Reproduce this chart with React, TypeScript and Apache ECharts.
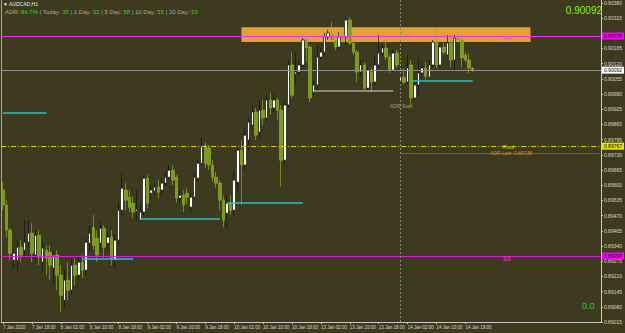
import React, { useEffect, useRef } from "react";
import * as echarts from "echarts";

// ---- data ----
const symbolTitle = "▼ AUDCAD,H1";
const adrStats: [string, string][] = [
  ["ADR", "84.7%"],
  ["Today", "35"],
  ["1 Day", "32"],
  ["5 Day", "58"],
  ["10 Day", "55"],
  ["20 Day", "53"],
];

const xTickLabels = [
  "7 Jan 2020", "7 Jan 18:00", "8 Jan 02:00", "8 Jan 10:00", "8 Jan 18:00",
  "9 Jan 02:00", "9 Jan 10:00", "9 Jan 18:00", "10 Jan 02:00", "10 Jan 10:00",
  "10 Jan 18:00", "13 Jan 02:00", "13 Jan 10:00", "13 Jan 18:00", "14 Jan 02:00",
  "14 Jan 10:00", "14 Jan 19:00",
];
const barsPerLabel = 8;
const totalSlots = 166;

const opens = [
  0.89579, 0.89515, 0.89408, 0.89279, 0.89279, 0.89335, 0.89322, 0.89356, 0.89395, 0.89301,
  0.89386, 0.89271, 0.89322, 0.89313, 0.89245, 0.89301, 0.89215, 0.89108, 0.89194, 0.89151,
  0.89258, 0.89215, 0.89271, 0.89236, 0.89352, 0.89420, 0.89373, 0.89352, 0.89416, 0.89352,
  0.89378, 0.89279, 0.89365, 0.89493, 0.89579, 0.89549, 0.89523, 0.89489, 0.89450, 0.89485,
  0.89630, 0.89566, 0.89575, 0.89592, 0.89579, 0.89609, 0.89634, 0.89664, 0.89634, 0.89545,
  0.89557, 0.89566, 0.89506, 0.89549, 0.89630, 0.89694, 0.89771, 0.89759, 0.89686, 0.89634,
  0.89609, 0.89536, 0.89480, 0.89523, 0.89493, 0.89613, 0.89750, 0.89686, 0.89793, 0.89857,
  0.89913, 0.89827, 0.89921, 0.89887, 0.89964, 0.89930, 0.89964, 0.89921, 0.89707, 0.89943,
  0.90114, 0.90075, 0.90084, 0.90114, 0.90221, 0.90191, 0.89998, 0.90028, 0.90148, 0.90169,
  0.90234, 0.90242, 0.90221, 0.90191, 0.90234, 0.90234, 0.90306, 0.90208, 0.90169, 0.90084,
  0.90114, 0.90015, 0.90084, 0.90041, 0.90114, 0.90165, 0.90187, 0.90148, 0.90092, 0.90165,
  0.90041, 0.90062, 0.90041, 0.90114, 0.89973, 0.90028, 0.90080, 0.90101, 0.90062, 0.90114,
  0.90212, 0.90114, 0.90191, 0.90157, 0.90208, 0.90135, 0.90229, 0.90221, 0.90157, 0.90135,
  0.90101,
];
const closes = [
  0.89515, 0.89408, 0.89309, 0.89309, 0.89335, 0.89301, 0.89356, 0.89395, 0.89309, 0.89386,
  0.89292, 0.89331, 0.89288, 0.89258, 0.89301, 0.89215, 0.89129, 0.89194, 0.89151, 0.89258,
  0.89215, 0.89271, 0.89236, 0.89356, 0.89395, 0.89343, 0.89301, 0.89416, 0.89335, 0.89378,
  0.89288, 0.89365, 0.89493, 0.89587, 0.89536, 0.89506, 0.89485, 0.89497, 0.89485, 0.89630,
  0.89523, 0.89579, 0.89592, 0.89570, 0.89609, 0.89634, 0.89664, 0.89622, 0.89545, 0.89557,
  0.89515, 0.89549, 0.89549, 0.89634, 0.89694, 0.89763, 0.89694, 0.89686, 0.89634, 0.89609,
  0.89536, 0.89450, 0.89523, 0.89493, 0.89622, 0.89750, 0.89686, 0.89814, 0.89870, 0.89913,
  0.89814, 0.89921, 0.89887, 0.89964, 0.89930, 0.89964, 0.89921, 0.89707, 0.89943, 0.90114,
  0.89985, 0.90084, 0.90114, 0.90221, 0.90187, 0.89973, 0.90028, 0.90148, 0.90169, 0.90234,
  0.90251, 0.90221, 0.90191, 0.90234, 0.90225, 0.90306, 0.90208, 0.90169, 0.90084, 0.90114,
  0.90015, 0.90092, 0.90041, 0.90114, 0.90165, 0.90187, 0.90148, 0.90092, 0.90165, 0.90114,
  0.90062, 0.90041, 0.90101, 0.89973, 0.90028, 0.90080, 0.90101, 0.90067, 0.90114, 0.90212,
  0.90114, 0.90191, 0.90169, 0.90208, 0.90135, 0.90229, 0.90221, 0.90144, 0.90135, 0.90101,
  0.90092,
];
const lows = [
  0.89493, 0.89378, 0.89279, 0.89245, 0.89236, 0.89271, 0.89288, 0.89331, 0.89271, 0.89271,
  0.89258, 0.89236, 0.89215, 0.89194, 0.89172, 0.89151, 0.89057, 0.89074, 0.89108, 0.89129,
  0.89172, 0.89194, 0.89202, 0.89215, 0.89322, 0.89322, 0.89271, 0.89322, 0.89288, 0.89322,
  0.89258, 0.89245, 0.89343, 0.89472, 0.89493, 0.89485, 0.89459, 0.89450, 0.89442, 0.89472,
  0.89502, 0.89536, 0.89557, 0.89545, 0.89553, 0.89596, 0.89622, 0.89600, 0.89527, 0.89523,
  0.89485, 0.89519, 0.89485, 0.89536, 0.89613, 0.89682, 0.89673, 0.89664, 0.89613, 0.89587,
  0.89493, 0.89420, 0.89416, 0.89472, 0.89472, 0.89579, 0.89515, 0.89664, 0.89750, 0.89836,
  0.89793, 0.89801, 0.89857, 0.89870, 0.89900, 0.89913, 0.89878, 0.89592, 0.89686, 0.89930,
  0.89973, 0.90028, 0.90071, 0.90105, 0.90127, 0.89955, 0.89985, 0.89998, 0.90135, 0.90157,
  0.90221, 0.90212, 0.90178, 0.90178, 0.90212, 0.90199, 0.90199, 0.90157, 0.90041, 0.90071,
  0.90007, 0.89998, 0.89998, 0.90028, 0.90105, 0.90152, 0.90135, 0.90080, 0.90084, 0.90101,
  0.90032, 0.90032, 0.90032, 0.89943, 0.89964, 0.89985, 0.90067, 0.90050, 0.90058, 0.90105,
  0.90101, 0.90105, 0.90157, 0.90148, 0.90105, 0.90084, 0.90212, 0.90105, 0.90127, 0.90080,
  0.90084,
];
const highs = [
  0.89613, 0.89536, 0.89416, 0.89331, 0.89365, 0.89365, 0.89450, 0.89450, 0.89438, 0.89408,
  0.89408, 0.89365, 0.89343, 0.89343, 0.89322, 0.89322, 0.89258, 0.89236, 0.89271, 0.89288,
  0.89288, 0.89301, 0.89301, 0.89373, 0.89429, 0.89472, 0.89408, 0.89442, 0.89429, 0.89399,
  0.89408, 0.89386, 0.89527, 0.89652, 0.89609, 0.89579, 0.89553, 0.89579, 0.89515, 0.89639,
  0.89643, 0.89600, 0.89609, 0.89622, 0.89630, 0.89656, 0.89686, 0.89686, 0.89643, 0.89579,
  0.89579, 0.89587, 0.89570, 0.89652, 0.89707, 0.89806, 0.89784, 0.89771, 0.89707, 0.89656,
  0.89622, 0.89557, 0.89557, 0.89557, 0.89664, 0.89771, 0.89793, 0.89844, 0.89887, 0.89943,
  0.89930, 0.89964, 0.89964, 0.89985, 0.89994, 0.89990, 0.89973, 0.89943, 0.89964, 0.90135,
  0.90169, 0.90165, 0.90135, 0.90229, 0.90229, 0.90199, 0.90050, 0.90199, 0.90187, 0.90251,
  0.90264, 0.90298, 0.90238, 0.90255, 0.90264, 0.90319, 0.90319, 0.90221, 0.90178, 0.90135,
  0.90127, 0.90101, 0.90101, 0.90157, 0.90242, 0.90199, 0.90221, 0.90157, 0.90178, 0.90178,
  0.90071, 0.90101, 0.90157, 0.90135, 0.90041, 0.90144, 0.90114, 0.90127, 0.90135, 0.90221,
  0.90272, 0.90199, 0.90208, 0.90242, 0.90229, 0.90242, 0.90251, 0.90234, 0.90169, 0.90165,
  0.90105,
];

const currentPrice = 0.90092;
const r3Level = 0.90238;
const pivotLevel = 0.89767;
const adrLowLevel = 0.89738;
const s3Level = 0.89297;
const adrStartIndex = 110;
const bandRange = { fromIndex: 66, toIndex: 146, top: 0.90276, bottom: 0.90212 };
// [fromIndex, toIndex, price]
const cyanSegments: [number, number, number][] = [
  [0, 12, 0.89908],
  [38, 60, 0.89455],
  [62, 83, 0.89527],
  [113, 130, 0.90045],
  [22, 36, 0.89284],
];
const graySegments: [number, number, number][] = [[86, 108, 0.90003]];

const yMin = 0.89015;
const yMax = 0.90392;
const yStep = 0.00065;

const FONT = '"Liberation Sans", Arial, sans-serif';

export default function App() {
  const ref = useRef<HTMLDivElement>(null);
  useEffect(() => {
    document.body.style.margin = "0";
    if (!ref.current) return;
    const chart = echarts.init(ref.current, undefined, { renderer: "svg" });

    const categories = Array.from({ length: totalSlots }, (_, i) =>
      i % barsPerLabel === 0 && i / barsPerLabel < xTickLabels.length
        ? xTickLabels[i / barsPerLabel]
        : "b" + i
    );
    const showTick = (idx: number) =>
      idx % barsPerLabel === 0 && idx / barsPerLabel < xTickLabels.length;
    const candles = opens.map((o, i) => [o, closes[i], lows[i], highs[i]]);
    const boxedLevels = [r3Level, currentPrice, pivotLevel, s3Level];

    const segLine = (segs: [number, number, number][], color: string, width: number) =>
      segs.map(([a, b, p]) => [
        { coord: [a, p], lineStyle: { color, width, type: "solid" } },
        { coord: [b, p] },
      ]);

    const levelLabel = (bg: string, fg: string) => ({
      show: true,
      position: "end",
      formatter: (p: any) => Number(p.value).toFixed(5),
      backgroundColor: bg,
      color: fg,
      fontSize: 5,
      fontFamily: FONT,
      padding: [1, 2, 1, 2],
      distance: 1,
    });

    const adrText = adrStats
      .map(([k, v], i) => `{l|${i ? " | " : ""}${k}: }{g|${v}}`)
      .join("");

    const txt = (left: number, top: number, text: string, fill: string, fontSize: number) => ({
      type: "text",
      left,
      top,
      z: 100,
      style: { text, fill, fontSize, fontFamily: FONT },
    });

    chart.setOption({
      animation: false,
      backgroundColor: "#3e3a20",
      grid: { left: 1, right: 21, top: 0, bottom: 11 },
      xAxis: {
        type: "category",
        data: categories,
        boundaryGap: true,
        axisLine: { show: true, lineStyle: { color: "#c8c8c0", width: 1 } },
        axisTick: {
          show: true,
          alignWithLabel: true,
          interval: (idx: number) => showTick(idx),
          length: 2,
          lineStyle: { color: "#c8c8c0" },
        },
        axisLabel: {
          interval: (idx: number) => showTick(idx),
          formatter: (v: string) => (v.startsWith("b") ? "" : v),
          align: "left",
          fontSize: 4.5,
          color: "#d8d8d0",
          fontFamily: FONT,
          margin: 3,
        },
        splitLine: { show: false },
      },
      yAxis: [
        {
          type: "value",
          position: "right",
          min: yMin,
          max: yMax,
          interval: yStep,
          axisLine: { show: true, lineStyle: { color: "#c8c8c0", width: 1 } },
          axisTick: { show: true, length: 2, lineStyle: { color: "#c8c8c0" } },
          axisLabel: {
            formatter: (v: number) =>
              boxedLevels.some((l) => Math.abs(l - v) < 0.00018) ? "" : v.toFixed(5),
            fontSize: 5,
            color: "#d8d8d0",
            fontFamily: FONT,
            margin: 3,
            showMaxLabel: false,
          },
          splitLine: { show: false },
        },
        {
          type: "value",
          position: "left",
          min: yMin,
          max: yMax,
          interval: yStep,
          axisLine: { show: true, lineStyle: { color: "#a8a8a0", width: 1 } },
          axisTick: { show: false },
          axisLabel: { show: false },
          splitLine: { show: false },
        },
      ],
      series: [
        {
          type: "line",
          data: [],
          z: 1,
          silent: true,
          markArea: {
            silent: true,
            itemStyle: { color: "#eda534", opacity: 0.95 },
            data: [
              [
                { coord: [bandRange.fromIndex, bandRange.top] },
                { coord: [bandRange.toIndex, bandRange.bottom] },
              ],
            ],
          },
          markLine: {
            silent: true,
            precision: 5,
            symbol: ["none", "none"],
            label: { show: false },
            data: [
              {
                xAxis: adrStartIndex,
                lineStyle: { color: "#8a8a78", width: 1, type: [2, 2] },
              },
              [
                {
                  coord: [adrStartIndex, adrLowLevel],
                  lineStyle: { color: "#c88a2a", width: 1, type: [1, 1] },
                },
                { coord: [totalSlots - 1, adrLowLevel] },
              ],
              ...segLine(cyanSegments, "#22c4c4", 1.5),
              ...segLine(graySegments, "#a0a8a0", 1.5),
            ],
          },
        },
        {
          type: "candlestick",
          data: candles,
          z: 3,
          barWidth: 3,
          itemStyle: {
            color: "#ffffff",
            color0: "#7a9c1c",
            borderColor: "#141408",
            borderColor0: "#8cb020",
            borderWidth: 0.7,
          },
          markLine: {
            silent: true,
            precision: 5,
            symbol: ["none", "none"],
            z: 4,
            data: [
              {
                yAxis: r3Level,
                lineStyle: { color: "#f030f0", width: 1, type: "solid" },
                label: levelLabel("#ff00ff", "#000000"),
              },
              {
                yAxis: currentPrice,
                lineStyle: { color: "#8c8c8c", width: 1, type: "solid" },
                label: levelLabel("#ffffff", "#000000"),
              },
              {
                yAxis: pivotLevel,
                lineStyle: { color: "#d8d800", width: 1, type: [5, 2, 1, 2] },
                label: levelLabel("#e8e800", "#000000"),
              },
              {
                yAxis: s3Level,
                lineStyle: { color: "#d820d8", width: 1, type: "solid" },
                label: levelLabel("#ff00ff", "#000000"),
              },
            ],
          },
        },
      ],
      graphic: [
        txt(3, 1, symbolTitle, "#e8e8e8", 5),
        {
          type: "text",
          left: 5,
          top: 9,
          z: 100,
          style: {
            text: adrText,
            fontFamily: FONT,
            rich: {
              l: { fill: "#a8a8a0", fontSize: 6, fontFamily: FONT },
              g: { fill: "#22dd22", fontSize: 6, fontFamily: FONT },
            },
          },
        },
        {
          type: "text",
          right: 23,
          top: 5,
          z: 100,
          style: {
            text: currentPrice.toFixed(5),
            fill: "#86f000",
            fontSize: 10,
            fontFamily: FONT,
          },
        },
        txt(582, 301, "0.0", "#3cc83c", 9),
        txt(503, 35, "R3", "#ff30ff", 6),
        txt(503, 256, "S3", "#ff30ff", 6),
        txt(390, 103, "ADR Start", "#9a9a90", 5),
        txt(503, 144, "Pivot", "#d8d800", 5),
        txt(490, 150, "ADR Low: " + adrLowLevel.toFixed(5), "#d08a28", 5),
      ],
    });
    return () => chart.dispose();
  }, []);
  return <div ref={ref} style={{ width: 625, height: 333 }} />;
}
